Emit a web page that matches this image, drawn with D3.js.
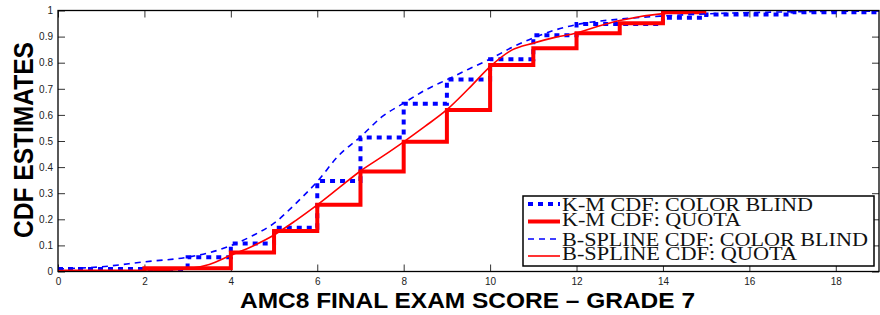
<!DOCTYPE html>
<html>
<head>
<meta charset="utf-8">
<script src="https://cdn.jsdelivr.net/npm/d3@7"></script>
<style>
  body { margin: 0; background: #fff; }
  svg { display: block; }
</style>
</head>
<body>
<svg id="cdf-chart"></svg>
<script>
////////////////////////////////////////////////////////////////////////////////
///////////////////////////////////////////////////////////////////// Chart data
////////////////////////////////////////////////////////////////////////////////

// Kaplan-Meier step estimates (score, cdf)
const kmBlindScores = [0, 3, 4, 5, 6, 7, 8, 9, 10, 11, 12, 14, 15, 17, 19];
const kmBlindValues = [0.01, 0.055, 0.107, 0.168, 0.347, 0.513, 0.643, 0.736, 0.813, 0.905, 0.948, 0.972, 0.985, 0.993, 0.995];

const kmQuotaScores = [0, 2, 4, 5, 6, 7, 8, 9, 10, 11, 12, 13, 14, 15];
const kmQuotaValues = [0, 0.012, 0.073, 0.155, 0.256, 0.383, 0.497, 0.619, 0.791, 0.855, 0.913, 0.951, 0.993, 0.993];

// B-spline smooth estimates (score, cdf)
const splineBlindScores = [0, 1, 2, 3, 3.5, 4, 4.5, 5, 5.5, 6, 6.5, 7, 7.5, 8, 8.5, 9, 9.5, 10, 10.5, 11, 11.5, 12, 13, 14, 15, 16, 17, 19];
const splineBlindValues = [0.01, 0.018, 0.037, 0.055, 0.072, 0.099, 0.137, 0.185, 0.26, 0.345, 0.445, 0.516, 0.593, 0.645, 0.695, 0.735, 0.775, 0.814, 0.858, 0.895, 0.925, 0.946, 0.967, 0.979, 0.987, 0.992, 0.995, 0.998];

const splineQuotaScores = [0, 1, 2, 2.5, 3, 3.5, 4, 4.5, 5, 5.5, 6, 6.5, 7, 7.5, 8, 8.5, 9, 9.5, 10, 10.5, 11, 11.5, 12, 12.5, 13, 14, 15];
const splineQuotaValues = [0, 0, 0.002, 0.005, 0.01, 0.027, 0.062, 0.097, 0.14, 0.195, 0.255, 0.32, 0.385, 0.44, 0.497, 0.557, 0.62, 0.7, 0.785, 0.848, 0.875, 0.897, 0.914, 0.94, 0.962, 0.988, 0.995];

// Axis ticks
const xTicks = [0, 2, 4, 6, 8, 10, 12, 14, 16, 18];
const yTicks = [0, 0.1, 0.2, 0.3, 0.4, 0.5, 0.6, 0.7, 0.8, 0.9, 1];
const yTickLabels = ["0", "0.1", "0.2", "0.3", "0.4", "0.5", "0.6", "0.7", "0.8", "0.9", "1"];

// Legend entries
const legendLabels = ["K-M CDF: COLOR BLIND", "K-M CDF: QUOTA", "B-SPLINE CDF: COLOR BLIND", "B-SPLINE CDF: QUOTA"];

////////////////////////////////////////////////////////////////////////////////
////////////////////////////////////////////////////////////////// Chart set up
////////////////////////////////////////////////////////////////////////////////

const svgWidth = 880;
const svgHeight = 315;
const plot = { left: 58, right: 879, top: 10.5, bottom: 271.5 };

const svg = d3.select("#cdf-chart")
              .attr("width", svgWidth)
              .attr("height", svgHeight);

const xScale = d3.scaleLinear()
                 .domain([0, 19])
                 .range([plot.left, plot.right]);
const yScale = d3.scaleLinear()
                 .domain([0, 1])
                 .range([plot.bottom, plot.top]);

svg.append("clipPath")
     .attr("id", "plot-clip")
   .append("rect")
     .attr("x", plot.left)
     .attr("y", plot.top - 4)
     .attr("width", plot.right - plot.left)
     .attr("height", plot.bottom - plot.top + 4);

// Axes, ticks pointing inward on all four sides
const tickLen = -7;
const axisFont = "'Liberation Sans', Arial, sans-serif";

const bottomAxis = svg.append("g")
                      .attr("transform", `translate(0, ${plot.bottom})`)
                      .call(d3.axisBottom(xScale)
                              .tickValues(xTicks)
                              .tickSizeInner(tickLen)
                              .tickSizeOuter(0)
                              .tickPadding(6));
const topAxis = svg.append("g")
                   .attr("transform", `translate(0, ${plot.top})`)
                   .call(d3.axisTop(xScale)
                           .tickValues(xTicks)
                           .tickSizeInner(tickLen)
                           .tickSizeOuter(0)
                           .tickFormat(""));
const leftAxis = svg.append("g")
                    .attr("transform", `translate(${plot.left}, 0)`)
                    .call(d3.axisLeft(yScale)
                            .tickValues(yTicks)
                            .tickSizeInner(tickLen)
                            .tickSizeOuter(0)
                            .tickPadding(5)
                            .tickFormat(function(d, i) { return yTickLabels[i]; }));
const rightAxis = svg.append("g")
                     .attr("transform", `translate(${plot.right}, 0)`)
                     .call(d3.axisRight(yScale)
                             .tickValues(yTicks)
                             .tickSizeInner(tickLen)
                             .tickSizeOuter(0)
                             .tickFormat(""));

[bottomAxis, topAxis, leftAxis, rightAxis].forEach(function(g) {
  g.select(".domain").remove();
  g.selectAll(".tick line")
     .attr("stroke", "#333")
     .attr("stroke-width", 1);
  g.selectAll(".tick text")
     .attr("fill", "#222")
     .style("font-family", axisFont)
     .style("font-size", "10px");
});

////////////////////////////////////////////////////////////////////////////////
////////////////////////////////////////////////////////////////////// Lines
////////////////////////////////////////////////////////////////////////////////

function toPoints(xs, ys) {
  return xs.map(function(x, i) { return [x, ys[i]]; });
}

const stepLine = d3.line()
                   .x(function(d) { return xScale(d[0]); })
                   .y(function(d) { return yScale(d[1]); })
                   .curve(d3.curveStepAfter);
const smoothLine = d3.line()
                     .x(function(d) { return xScale(d[0]); })
                     .y(function(d) { return yScale(d[1]); })
                     .curve(d3.curveMonotoneX);

const series = [
  { points: toPoints(kmBlindScores, kmBlindValues), line: stepLine, color: "#0000ff", width: 4, dash: "5,5" },
  { points: toPoints(kmQuotaScores, kmQuotaValues), line: stepLine, color: "#ff0000", width: 4, dash: null },
  { points: toPoints(splineBlindScores, splineBlindValues), line: smoothLine, color: "#0000ff", width: 1.6, dash: "6,5" },
  { points: toPoints(splineQuotaScores, splineQuotaValues), line: smoothLine, color: "#ff0000", width: 1.6, dash: null }
];

svg.append("g")
     .attr("clip-path", "url(#plot-clip)")
   .selectAll(".line")
   .data(series)
   .join("path")
     .attr("class", "line")
     .attr("fill", "none")
     .attr("stroke", function(d) { return d.color; })
     .attr("stroke-width", function(d) { return d.width; })
     .attr("stroke-dasharray", function(d) { return d.dash; })
     .attr("d", function(d) { return d.line(d.points); });

// Plot frame
svg.append("rect")
     .attr("x", plot.left)
     .attr("y", plot.top)
     .attr("width", plot.right - plot.left)
     .attr("height", plot.bottom - plot.top)
     .attr("fill", "none")
     .attr("stroke", "#000")
     .attr("stroke-width", 1.3);

////////////////////////////////////////////////////////////////////////////////
////////////////////////////////////////////////////////////////////// Legend
////////////////////////////////////////////////////////////////////////////////

const legendBox = { x: 523, y: 196, width: 351, height: 70 };
const legendLineY = [204, 221.5, 239, 256];
const legendTextY = [211, 225.8, 245.7, 260];
const legendTextWidth = [251, 179, 306, 235];

const legend = svg.append("g");
legend.append("rect")
        .attr("x", legendBox.x)
        .attr("y", legendBox.y)
        .attr("width", legendBox.width)
        .attr("height", legendBox.height)
        .attr("fill", "#fff")
        .attr("stroke", "#000")
        .attr("stroke-width", 1.5);

legend.selectAll(".legend-line")
      .data(series)
      .join("line")
        .attr("class", "legend-line")
        .attr("x1", 528)
        .attr("x2", 560)
        .attr("y1", function(d, i) { return legendLineY[i]; })
        .attr("y2", function(d, i) { return legendLineY[i]; })
        .attr("stroke", function(d) { return d.color; })
        .attr("stroke-width", function(d) { return d.width; })
        .attr("stroke-dasharray", function(d) { return d.dash; });

legend.selectAll(".legend-text")
      .data(legendLabels)
      .join("text")
        .attr("class", "legend-text")
        .attr("x", 562)
        .attr("y", function(d, i) { return legendTextY[i]; })
        .attr("textLength", function(d, i) { return legendTextWidth[i]; })
        .attr("lengthAdjust", "spacingAndGlyphs")
        .style("font-family", "'Liberation Serif', 'Times New Roman', serif")
        .style("font-size", "19px")
        .attr("fill", "#111")
        .text(function(d) { return d; });

////////////////////////////////////////////////////////////////////////////////
//////////////////////////////////////////////////////////////////// Axis labels
////////////////////////////////////////////////////////////////////////////////

svg.append("text")
     .attr("x", 467.5)
     .attr("y", 308)
     .attr("textLength", 455)
     .attr("lengthAdjust", "spacingAndGlyphs")
     .style("text-anchor", "middle")
     .style("font-family", axisFont)
     .style("font-weight", "bold")
     .style("font-size", "22px")
     .text("AMC8 FINAL EXAM SCORE \u2013 GRADE 7");

svg.append("text")
     .attr("transform", "rotate(-90)")
     .attr("x", -140)
     .attr("y", 33)
     .attr("textLength", 196)
     .attr("lengthAdjust", "spacingAndGlyphs")
     .style("text-anchor", "middle")
     .style("font-family", axisFont)
     .style("font-weight", "bold")
     .style("font-size", "28px")
     .text("CDF ESTIMATES");
</script>
</body>
</html>
